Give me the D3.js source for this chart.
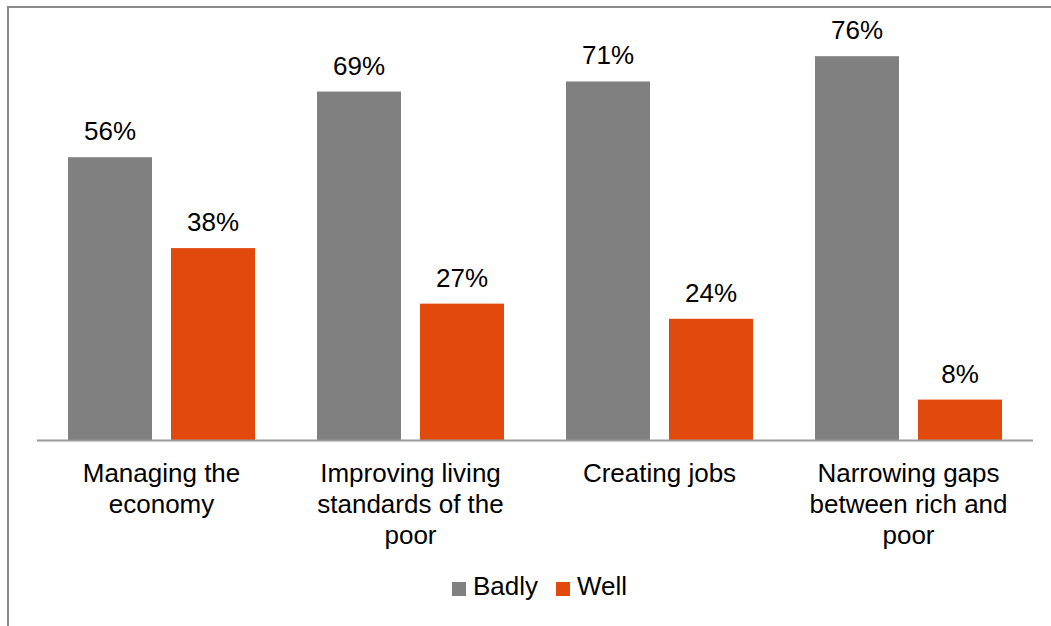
<!DOCTYPE html>
<html>
<head>
<meta charset="utf-8">
<script src="https://cdn.jsdelivr.net/npm/d3@7"></script>
<style>
  html, body { margin: 0; padding: 0; background: #fff; }
  svg { display: block; font-family: "Liberation Sans", Arial, sans-serif; }
</style>
</head>
<body>
<svg id="chart" width="1051" height="626"></svg>
<script>
const categories = ["Managing the economy", "Improving living standards of the poor", "Creating jobs", "Narrowing gaps between rich and poor"];
const categoryLines = [["Managing the", "economy"], ["Improving living", "standards of the", "poor"], ["Creating jobs"], ["Narrowing gaps", "between rich and", "poor"]];
const seriesNames = ["Badly", "Well"];
const badly = [56, 69, 71, 76];
const well = [38, 27, 24, 8];
const colors = ["#808080", "#E2490C"];

const svg = d3.select("#chart");
const W = 1051, H = 626;

// outer frame (cut off at right/bottom)
svg.append("rect").attr("x", 8).attr("y", 7).attr("width", 1100).attr("height", 700)
  .attr("fill", "none").attr("stroke", "#8a8a8a").attr("stroke-width", 2);

const x0 = d3.scaleBand().domain(categories).range([37, 1033]).paddingInner(0).paddingOuter(0);
const x1 = d3.scaleBand().domain(seriesNames).range([0, x0.bandwidth()]).paddingInner(0.1845).paddingOuter(0.301);
const y = d3.scaleLinear().domain([0, 80]).range([440, 36]);

const data = categories.map((c, i) => ({ cat: c, values: [badly[i], well[i]] }));

const groups = svg.append("g").selectAll("g").data(data).join("g")
  .attr("transform", d => `translate(${x0(d.cat)},0)`);

groups.selectAll("rect").data(d => d.values.map((v, j) => ({ s: seriesNames[j], v, j })))
  .join("rect")
  .attr("x", d => x1(d.s))
  .attr("y", d => y(d.v))
  .attr("width", x1.bandwidth())
  .attr("height", d => y(0) - y(d.v))
  .attr("fill", d => colors[d.j]);

groups.selectAll("text.val").data(d => d.values.map((v, j) => ({ s: seriesNames[j], v, j })))
  .join("text").attr("class", "val")
  .attr("x", d => x1(d.s) + x1.bandwidth() / 2)
  .attr("y", d => y(d.v) - 17)
  .attr("text-anchor", "middle")
  .attr("font-size", 26)
  .attr("fill", "#000")
  .text(d => d.v + "%");

// axis baseline
svg.append("line").attr("x1", 37).attr("x2", 1033).attr("y1", y(0) + 0.5).attr("y2", y(0) + 0.5)
  .attr("stroke", "#9a9a9a").attr("stroke-width", 2);

// category labels
const catLabels = svg.append("g").selectAll("text").data(categories).join("text")
  .attr("text-anchor", "middle")
  .attr("font-size", 26)
  .attr("fill", "#000")
  .attr("transform", d => `translate(${x0(d) + x0.bandwidth() / 2},482)`);
catLabels.each(function (d, i) {
  d3.select(this).selectAll("tspan").data(categoryLines[i]).join("tspan")
    .attr("x", 0).attr("y", (l, k) => k * 31).text(l => l);
});

// legend
const legendX = [452, 556];
const lg = svg.append("g").selectAll("g").data(seriesNames).join("g")
  .attr("transform", (d, i) => `translate(${legendX[i]},582)`);
lg.append("rect").attr("width", 14).attr("height", 14).attr("fill", (d, i) => colors[i]);
lg.append("text").attr("x", 21).attr("y", 13).attr("font-size", 26).attr("fill", "#000").text(d => d);
</script>
</body>
</html>
